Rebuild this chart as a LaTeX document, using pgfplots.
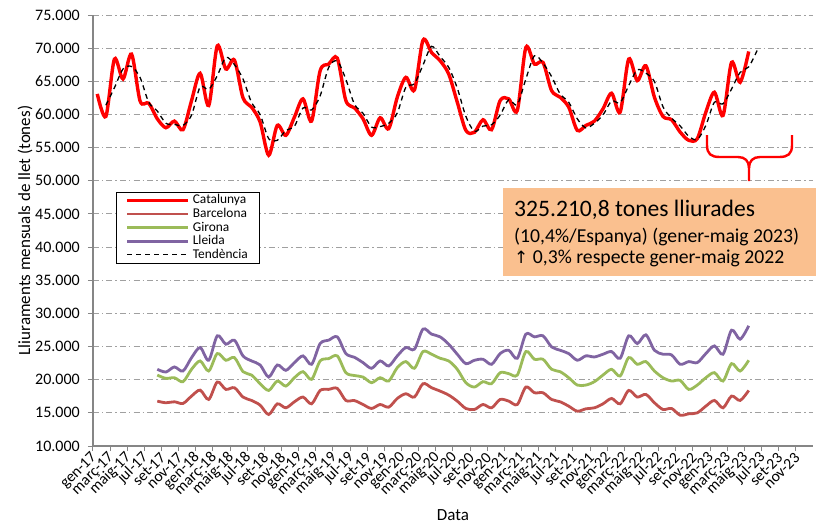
\documentclass[border=0pt]{standalone}
\usepackage{pgfplots}
\usepackage{pgfplotstable}
\pgfplotsset{compat=1.18}
\usepackage{fontspec}
\setmainfont{Carlito}
\newfontfamily\djv{DejaVu Sans}
\definecolor{cat}{RGB}{255,0,0}
\definecolor{bcn}{RGB}{192,80,77}
\definecolor{gir}{RGB}{155,187,89}
\definecolor{lle}{RGB}{128,100,162}
\definecolor{peach}{RGB}{250,192,143}
\definecolor{axgray}{RGB}{134,134,134}
\definecolor{grgray}{RGB}{160,160,160}

\pgfplotstableread{
x y
0 63100
1 59700
2 68350
3 65350
4 69100
5 62000
6 61700
7 59350
8 58000
9 59000
10 57700
11 62100
12 66200
13 61350
14 70350
15 66850
16 68200
17 62500
18 61100
19 58850
20 53850
21 58350
22 56850
23 59600
24 62350
25 59000
26 66600
27 67600
28 68500
29 62100
30 61000
31 59350
32 56850
33 59500
34 57850
35 62600
36 65600
37 63700
38 71200
39 69350
40 68100
41 66100
42 61850
43 57600
44 57300
45 59200
46 57700
47 62100
48 62350
49 60600
50 70100
51 67600
52 67850
53 63600
54 62600
55 61100
56 57600
57 58350
58 59000
59 60850
60 63200
61 60350
62 68350
63 65100
64 67350
65 62600
66 59700
67 59200
68 57350
69 56100
70 56350
71 60350
72 63350
73 59850
74 67850
75 64850
76 69500
}\catdata

\pgfplotstableread{
x bcn gir lle
7 16770 20700 21570
8 16520 20200 21160
9 16670 20300 21920
10 16420 19700 21310
11 17530 21570 23330
12 18430 22830 24850
13 17020 21310 22930
14 19650 23940 26620
15 18540 22930 25350
16 18790 23330 25960
17 17380 21210 23590
18 16870 20700 22830
19 16160 19400 22220
20 14750 18380 20400
21 16360 19800 22220
22 15760 19040 21410
23 16670 20300 22580
24 17380 21210 23590
25 16360 20050 22320
26 18380 22830 25450
27 18540 23180 25960
28 18690 23590 26460
29 16870 21060 23940
30 16850 20630 23380
31 16260 20400 22580
32 15660 19550 21720
33 16260 20300 22830
34 15860 19800 22070
35 17170 21820 23590
36 17880 22730 24850
37 17380 21720 24600
38 19400 24240 27630
39 18790 23840 26870
40 18280 23230 26460
41 17680 22830 25350
42 16770 21570 23840
43 15660 19550 22420
44 15510 18890 22930
45 16260 19700 23080
46 15760 19400 22320
47 17020 21060 23940
48 16770 20910 24440
49 16260 20700 23230
50 18890 24240 26870
51 18030 23080 26460
52 18030 23080 26620
53 17020 21570 24950
54 16670 21210 24440
55 16010 20300 23940
56 15250 19190 22930
57 15610 19190 23590
58 15760 19700 23430
59 16360 20700 23840
60 17170 21570 24240
61 16360 20560 23230
62 18380 23330 26620
63 17380 22320 25450
64 17780 22730 26770
65 16520 21310 24440
66 15510 20300 23840
67 15660 19800 23740
68 14650 19900 22320
69 14850 18540 22730
70 15000 19190 22580
71 16010 20300 23940
72 16870 21060 25100
73 15760 19800 23840
74 17530 22420 27470
75 16870 21310 26110
76 18380 22930 28130
}\regdata

\pgfplotstableread{
x y
1 61400
2 64025
3 66850
4 67225
5 65550
6 61850
7 60525
8 58675
9 58500
10 58350
11 59900
12 64150
13 63775
14 65850
15 68600
16 67525
17 65350
18 61800
19 59975
20 56350
21 56100
22 57600
23 58225
24 60975
25 60675
26 62800
27 67100
28 68050
29 65300
30 61550
31 60175
32 58100
33 58175
34 58675
35 60225
36 64100
37 64650
38 67450
39 70275
40 68725
41 67100
42 63975
43 59725
44 57450
45 58250
46 58450
47 59900
48 62225
49 61475
50 65350
51 68850
52 67725
53 65725
54 63100
55 61850
56 59350
57 57975
58 58675
59 59925
60 62025
61 61775
62 64350
63 66725
64 66225
65 64975
66 61150
67 59450
68 58275
69 56725
70 56225
71 58350
72 61850
73 61600
74 63850
75 66350
76 67175
77 69700
}\trenddata

\begin{document}
\begin{tikzpicture}
\path[use as bounding box] (-93pt,-77pt) rectangle (726pt,446pt);
\begin{axis}[
  scale only axis,
  width=720pt, height=431pt,
  at={(0pt,0pt)}, anchor=south west,
  xmin=-0.5, xmax=83.5,
  ymin=10000, ymax=75000,
  scaled y ticks=false, scaled x ticks=false,
  axis x line*=bottom, axis y line*=left,
  axis line style={draw=axgray, line width=1.3pt},
  tick style={draw=axgray, line width=1pt},
  tick align=outside,
  major tick length=5pt,
  xtick={-0.5,1.5,...,81.5},
  xticklabels={gen-17,març-17,maig-17,jul-17,set-17,nov-17,
    gen-18,març-18,maig-18,jul-18,set-18,nov-18,
    gen-19,març-19,maig-19,jul-19,set-19,nov-19,
    gen-20,març-20,maig-20,jul-20,set-20,nov-20,
    gen-21,març-21,maig-21,jul-21,set-21,nov-21,
    gen-22,març-22,maig-22,jul-22,set-22,nov-22,
    gen-23,març-23,maig-23,jul-23,set-23,nov-23},
  xticklabel style={font=\fontsize{15.6}{17}\selectfont, rotate=45, anchor=east, inner sep=1pt, yshift=-4pt, xshift=-1pt},
  ytick={10000,15000,...,75000},
  yticklabels={10.000,15.000,20.000,25.000,30.000,35.000,40.000,45.000,50.000,55.000,60.000,65.000,70.000,75.000},
  yticklabel style={font=\fontsize{16}{18}\selectfont, anchor=east, inner sep=0pt, xshift=-8pt},
  ymajorgrids,
  major grid style={draw=grgray, line width=1pt, dash pattern=on 6pt off 3pt on 1.5pt off 3pt},
  xlabel={Data},
  ylabel={Lliuraments mensuals de llet (tones)},
  x label style={at={(axis description cs:0.5,-0.160)}, anchor=center, font=\fontsize{17}{20}\selectfont},
  y label style={at={(axis description cs:-0.0944,0.5)}, anchor=center, font=\fontsize{17}{20}\selectfont},
  legend style={at={(axis description cs:0.032,0.590)}, anchor=north west,
    draw=black, line width=0.8pt, fill=white,
    nodes={font=\fontsize{13.4}{14}\selectfont, inner xsep=3pt, inner ysep=0.6pt, text height=9.6pt, text depth=2.8pt},
    inner xsep=9pt, inner ysep=1.5pt},
  legend cell align=left,
  legend image code/.code={\draw[#1] (0pt,0pt) -- (61pt,0pt);},
  clip=false,
]
\addplot[cat, line width=3.4pt, smooth, tension=0.5] table[x=x,y=y] {\catdata};
\addlegendentry{Catalunya}
\addplot[bcn, line width=2.8pt, smooth, tension=0.5] table[x=x,y=bcn] {\regdata};
\addlegendentry{Barcelona}
\addplot[gir, line width=2.8pt, smooth, tension=0.5] table[x=x,y=gir] {\regdata};
\addlegendentry{Girona}
\addplot[lle, line width=2.8pt, smooth, tension=0.5] table[x=x,y=lle] {\regdata};
\addlegendentry{Lleida}
\addplot[black, line width=1.3pt, dash pattern=on 5pt off 4pt, smooth, tension=0.5] table[x=x,y=y] {\trenddata};
\addlegendentry{Tendència}
\end{axis}
% brace
\draw[cat, line width=2.4pt] (614pt,311pt) -- (614pt,301pt) .. controls (614pt,292pt) and (618pt,289pt) .. (627pt,289pt) -- (645pt,289pt) .. controls (652pt,289pt) and (656pt,285pt) .. (656pt,278pt) -- (656pt,265pt);
\draw[cat, line width=2.4pt] (699pt,311pt) -- (699pt,301pt) .. controls (699pt,292pt) and (695pt,289pt) .. (686pt,289pt) -- (667pt,289pt) .. controls (660pt,289pt) and (656pt,285pt) .. (656pt,278pt);
% annotation box
\fill[peach] (410pt,170pt) rectangle (723pt,258pt);
\node[anchor=west, inner sep=0pt, font=\fontsize{23.6}{26}\selectfont] at (421pt,236pt) {325.210,8 tones lliurades};
\node[anchor=west, inner sep=0pt, font=\fontsize{19.7}{22}\selectfont] at (421pt,209pt) {(10,4\%/Espanya) (gener-maig 2023)};
\node[anchor=west, inner sep=0pt, font=\fontsize{19.7}{22}\selectfont] at (421pt,188pt) {{\djv\fontsize{17}{20}\selectfont ↑} 0,3\% respecte gener-maig 2022};
\end{tikzpicture}
\end{document}
